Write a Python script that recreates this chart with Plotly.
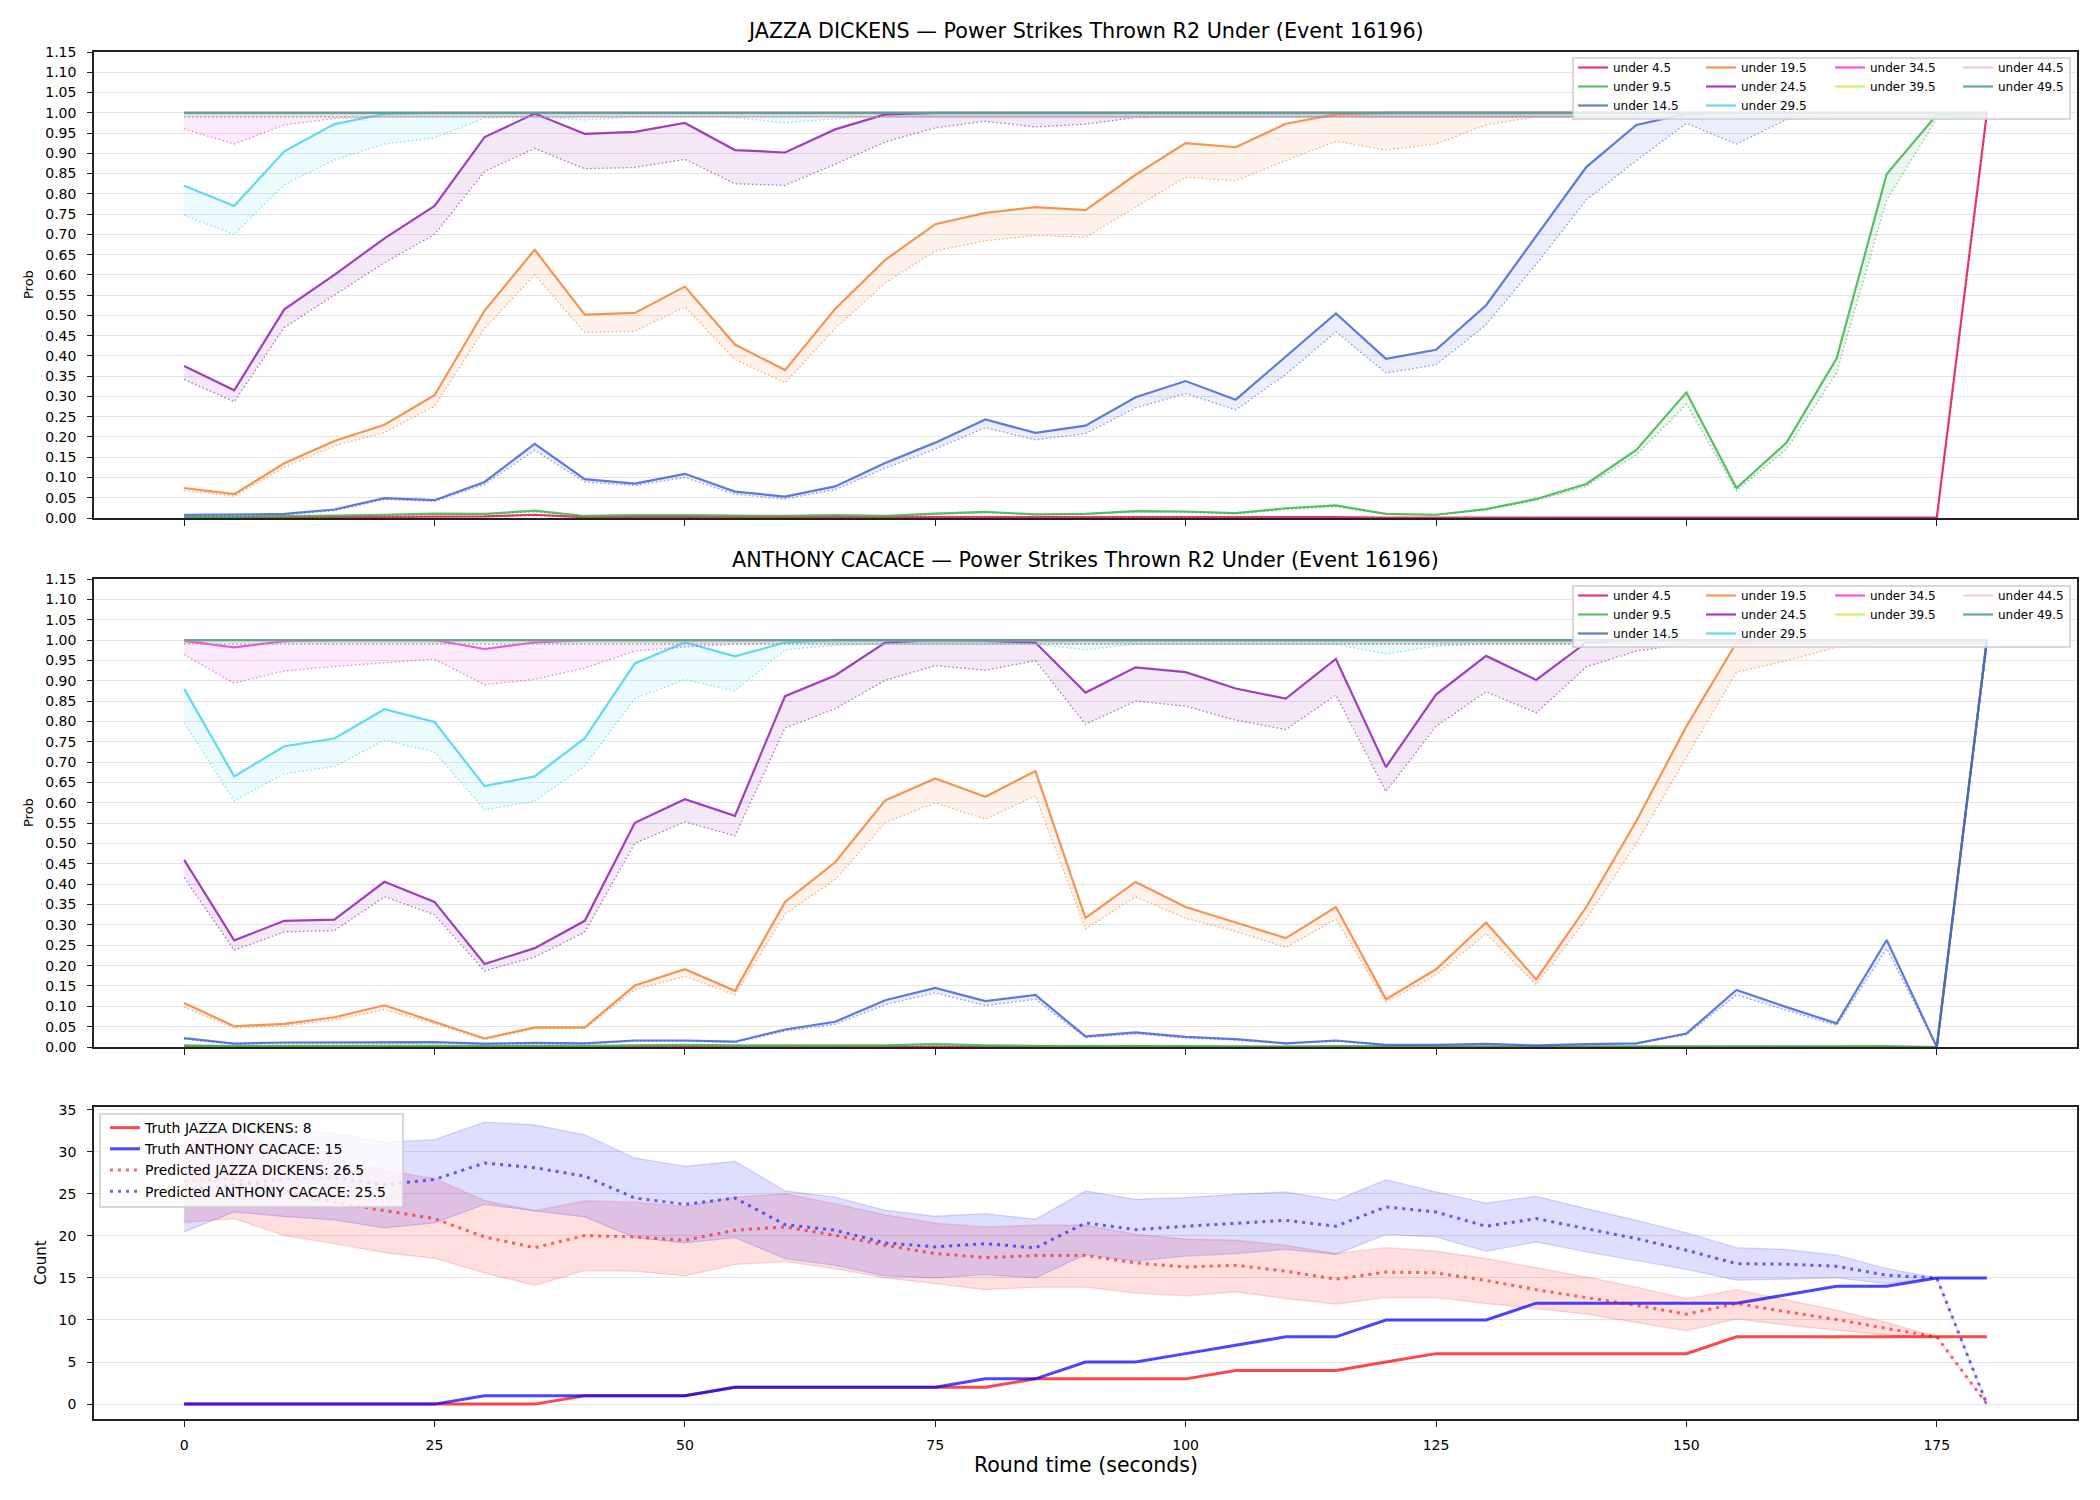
import plotly.graph_objects as go

# ---------------- data ----------------
T = [0, 5, 10, 15, 20, 25, 30, 35, 40, 45, 50, 55, 60, 65, 70, 75, 80, 85, 90,
     95, 100, 105, 110, 115, 120, 125, 130, 135, 140, 145, 150, 155, 160, 165,
     170, 175, 180]

THRESHOLDS = ["4.5", "9.5", "14.5", "19.5", "24.5", "29.5", "34.5", "39.5", "44.5", "49.5"]
COLORS = ["#e6194b", "#3cb44b", "#4363d8", "#f58231", "#911eb4",
          "#42d4f4", "#f032e6", "#bfef45", "#fabed4", "#469990"]

TITLE_J = "JAZZA DICKENS — Power Strikes Thrown R2 Under (Event 16196)"
TITLE_A = "ANTHONY CACACE — Power Strikes Thrown R2 Under (Event 16196)"

# JAZZA DICKENS: model (solid) and reference (dotted) probabilities
j_u4_5 = [0.001, 0.001, 0.001, 0.002, 0.003, 0.004, 0.004, 0.008, 0.002, 0.003, 0.003, 0.002,
          0.002, 0.003, 0.002, 0.002, 0.003, 0.002, 0.002, 0.003, 0.003, 0.002, 0.002, 0.002,
          0.001, 0.001, 0.001, 0.001, 0.001, 0.001, 0.001, 0.001, 0.001, 0.001, 0.001, 0.001, 1.0]
j_u4_5_d = [0.001, 0.001, 0.001, 0.001, 0.002, 0.003, 0.003, 0.006, 0.001, 0.002, 0.002, 0.001,
            0.001, 0.002, 0.001, 0.001, 0.002, 0.001, 0.001, 0.002, 0.002, 0.001, 0.001, 0.001,
            0.0, 0.0, 0.0, 0.0, 0.0, 0.0, 0.0, 0.0, 0.0, 0.0, 0.0, 0.0, 0.99]
j_u9_5 = [0.002, 0.003, 0.004, 0.006, 0.008, 0.011, 0.010, 0.018, 0.005, 0.007, 0.007, 0.006,
          0.005, 0.007, 0.005, 0.011, 0.015, 0.009, 0.010, 0.017, 0.016, 0.012, 0.024, 0.031,
          0.010, 0.008, 0.022, 0.047, 0.084, 0.168, 0.310, 0.074, 0.186, 0.394, 0.849, 0.995, 1.0]
j_u9_5_d = [0.001, 0.002, 0.003, 0.005, 0.007, 0.009, 0.009, 0.015, 0.004, 0.006, 0.006, 0.005,
            0.004, 0.006, 0.004, 0.009, 0.013, 0.008, 0.009, 0.015, 0.014, 0.010, 0.021, 0.028,
            0.009, 0.007, 0.020, 0.043, 0.078, 0.156, 0.281, 0.067, 0.170, 0.358, 0.785, 0.985, 0.99]
j_u14_5 = [0.0075, 0.008, 0.010, 0.021, 0.049, 0.044, 0.089, 0.183, 0.096, 0.085, 0.109, 0.065,
           0.053, 0.078, 0.136, 0.186, 0.243, 0.210, 0.228, 0.298, 0.338, 0.292, 0.398, 0.505,
           0.393, 0.415, 0.525, 0.697, 0.866, 0.970, 0.998, 1.0, 1.0, 1.0, 1.0, 1.0, 1.0]
j_u14_5_d = [0.005, 0.006, 0.008, 0.018, 0.046, 0.041, 0.083, 0.167, 0.089, 0.080, 0.100, 0.059,
             0.047, 0.070, 0.123, 0.170, 0.223, 0.193, 0.208, 0.272, 0.307, 0.267, 0.354, 0.460,
             0.358, 0.378, 0.477, 0.626, 0.785, 0.882, 0.974, 0.923, 0.983, 0.99, 0.99, 0.99, 0.99]
j_u19_5 = [0.074, 0.059, 0.135, 0.190, 0.230, 0.303, 0.512, 0.662, 0.502, 0.506, 0.571, 0.428,
           0.365, 0.516, 0.637, 0.725, 0.753, 0.767, 0.760, 0.847, 0.925, 0.915, 0.973, 0.996,
           1.0, 1.0, 1.0, 1.0, 1.0, 1.0, 1.0, 1.0, 1.0, 1.0, 1.0, 1.0, 1.0]
j_u19_5_d = [0.068, 0.054, 0.125, 0.178, 0.211, 0.276, 0.468, 0.600, 0.458, 0.461, 0.521, 0.391,
             0.334, 0.468, 0.580, 0.659, 0.684, 0.697, 0.693, 0.768, 0.841, 0.832, 0.882, 0.930,
             0.908, 0.923, 0.970, 0.99, 0.99, 0.99, 0.99, 0.99, 0.99, 0.99, 0.99, 0.99, 0.99]
j_u24_5 = [0.375, 0.315, 0.515, 0.600, 0.690, 0.770, 0.940, 0.998, 0.948, 0.953, 0.975, 0.908,
           0.902, 0.959, 0.996, 1.0, 1.0, 1.0, 1.0, 1.0, 1.0, 1.0, 1.0, 1.0,
           1.0, 1.0, 1.0, 1.0, 1.0, 1.0, 1.0, 1.0, 1.0, 1.0, 1.0, 1.0, 1.0]
j_u24_5_d = [0.342, 0.287, 0.470, 0.550, 0.630, 0.700, 0.855, 0.912, 0.862, 0.865, 0.885, 0.825,
             0.821, 0.873, 0.928, 0.963, 0.979, 0.965, 0.972, 0.988, 0.99, 0.99, 0.99, 0.99,
             0.99, 0.99, 0.99, 0.99, 0.99, 0.99, 0.99, 0.99, 0.99, 0.99, 0.99, 0.99, 0.99]
j_u29_5 = [0.820, 0.770, 0.905, 0.972, 0.997, 1.0, 1.0, 1.0, 1.0, 1.0, 1.0, 1.0,
           1.0, 1.0, 1.0, 1.0, 1.0, 1.0, 1.0, 1.0, 1.0, 1.0, 1.0, 1.0,
           1.0, 1.0, 1.0, 1.0, 1.0, 1.0, 1.0, 1.0, 1.0, 1.0, 1.0, 1.0, 1.0]
j_u29_5_d = [0.747, 0.700, 0.822, 0.884, 0.923, 0.938, 0.987, 0.99, 0.982, 0.99, 0.99, 0.988,
             0.975, 0.985, 0.99, 0.99, 0.99, 0.99, 0.99, 0.99, 0.99, 0.99, 0.99, 0.99,
             0.99, 0.99, 0.99, 0.99, 0.99, 0.99, 0.99, 0.99, 0.99, 0.99, 0.99, 0.99, 0.99]
j_u34_5 = [1.0] * 37
j_u34_5_d = [0.960, 0.923, 0.970, 0.986, 0.99, 0.99, 0.99, 0.99, 0.99, 0.99, 0.99, 0.99,
             0.99, 0.99, 0.99, 0.99, 0.99, 0.99, 0.99, 0.99, 0.99, 0.99, 0.99, 0.99,
             0.99, 0.99, 0.99, 0.99, 0.99, 0.99, 0.99, 0.99, 0.99, 0.99, 0.99, 0.99, 0.99]
j_u39_5 = [1.0] * 37
j_u39_5_d = [0.99] * 37
j_u44_5 = [1.0] * 37
j_u44_5_d = [0.99] * 37
j_u49_5 = [1.0] * 37
j_u49_5_d = [0.99] * 37

# ANTHONY CACACE
a_u4_5 = [0.001, 0.001, 0.001, 0.001, 0.001, 0.001, 0.001, 0.001, 0.001, 0.001, 0.001, 0.001,
          0.001, 0.001, 0.001, 0.001, 0.001, 0.001, 0.001, 0.001, 0.001, 0.001, 0.001, 0.001,
          0.0, 0.0, 0.0, 0.0, 0.0, 0.0, 0.0, 0.0, 0.0, 0.0, 0.0, 0.0, 1.0]
a_u4_5_d = [0.0, 0.0, 0.0, 0.0, 0.0, 0.0, 0.0, 0.0, 0.0, 0.0, 0.0, 0.0,
            0.0, 0.0, 0.0, 0.0, 0.0, 0.0, 0.0, 0.0, 0.0, 0.0, 0.0, 0.0,
            0.0, 0.0, 0.0, 0.0, 0.0, 0.0, 0.0, 0.0, 0.0, 0.0, 0.0, 0.0, 0.99]
a_u9_5 = [0.004, 0.002, 0.003, 0.003, 0.003, 0.003, 0.002, 0.003, 0.003, 0.004, 0.005, 0.004,
          0.004, 0.005, 0.004, 0.007, 0.004, 0.003, 0.002, 0.003, 0.002, 0.002, 0.001, 0.002,
          0.001, 0.001, 0.001, 0.001, 0.001, 0.001, 0.001, 0.002, 0.001, 0.001, 0.002, 0.0, 1.0]
a_u9_5_d = [0.003, 0.001, 0.002, 0.002, 0.002, 0.002, 0.001, 0.002, 0.002, 0.003, 0.004, 0.003,
            0.003, 0.004, 0.003, 0.006, 0.003, 0.002, 0.001, 0.002, 0.001, 0.001, 0.001, 0.001,
            0.0, 0.0, 0.0, 0.0, 0.0, 0.0, 0.0, 0.001, 0.0, 0.0, 0.001, 0.0, 0.99]
a_u14_5 = [0.022, 0.0085, 0.011, 0.011, 0.011, 0.012, 0.0085, 0.010, 0.009, 0.016, 0.016, 0.013,
           0.043, 0.062, 0.115, 0.145, 0.113, 0.128, 0.026, 0.036, 0.025, 0.0195, 0.009, 0.016,
           0.005, 0.005, 0.0076, 0.004, 0.007, 0.009, 0.033, 0.140, 0.098, 0.058, 0.263, 0.0, 1.0]
a_u14_5_d = [0.019, 0.007, 0.009, 0.009, 0.009, 0.010, 0.007, 0.008, 0.008, 0.014, 0.014, 0.011,
             0.039, 0.056, 0.104, 0.133, 0.102, 0.117, 0.023, 0.032, 0.022, 0.017, 0.008, 0.014,
             0.004, 0.004, 0.006, 0.003, 0.006, 0.008, 0.030, 0.128, 0.090, 0.053, 0.242, 0.0, 0.99]
a_u19_5 = [0.108, 0.051, 0.057, 0.073, 0.1025, 0.062, 0.021, 0.048, 0.048, 0.151, 0.191, 0.138,
           0.3565, 0.454, 0.606, 0.660, 0.615, 0.678, 0.317, 0.4056, 0.344, 0.306, 0.2676, 0.344,
           0.1177, 0.191, 0.306, 0.166, 0.344, 0.5555, 0.788, 0.994, 1.0, 1.0, 1.0, 1.0, 1.0]
a_u19_5_d = [0.098, 0.047, 0.052, 0.067, 0.092, 0.057, 0.018, 0.045, 0.045, 0.141, 0.174, 0.128,
             0.327, 0.4115, 0.551, 0.600, 0.560, 0.617, 0.290, 0.369, 0.316, 0.2845, 0.2447, 0.314,
             0.111, 0.177, 0.2786, 0.153, 0.314, 0.5005, 0.712, 0.921, 0.949, 0.983, 0.99, 0.99, 0.99]
a_u24_5 = [0.460, 0.262, 0.310, 0.313, 0.406, 0.3565, 0.204, 0.243, 0.310, 0.551, 0.609, 0.568,
           0.862, 0.913, 0.994, 1.0, 0.998, 0.994, 0.871, 0.933, 0.921, 0.881, 0.856, 0.9535,
           0.688, 0.866, 0.961, 0.902, 0.994, 1.0, 1.0, 1.0, 1.0, 1.0, 1.0, 1.0, 1.0]
a_u24_5_d = [0.416, 0.238, 0.283, 0.286, 0.369, 0.325, 0.187, 0.221, 0.282, 0.5005, 0.553, 0.519,
             0.784, 0.831, 0.901, 0.937, 0.926, 0.949, 0.793, 0.850, 0.8375, 0.803, 0.780, 0.865,
             0.6275, 0.788, 0.873, 0.821, 0.934, 0.973, 0.99, 0.99, 0.99, 0.99, 0.99, 0.99, 0.99]
a_u29_5 = [0.880, 0.665, 0.739, 0.758, 0.830, 0.7985, 0.641, 0.665, 0.759, 0.9425, 0.994, 0.960,
           0.994, 1.0, 1.0, 1.0, 1.0, 1.0, 1.0, 1.0, 1.0, 1.0, 1.0, 1.0,
           1.0, 1.0, 1.0, 1.0, 1.0, 1.0, 1.0, 1.0, 1.0, 1.0, 1.0, 1.0, 1.0]
a_u29_5_d = [0.797, 0.605, 0.6715, 0.689, 0.754, 0.725, 0.583, 0.604, 0.691, 0.856, 0.903, 0.875,
             0.976, 0.987, 0.99, 0.99, 0.99, 0.99, 0.976, 0.99, 0.99, 0.99, 0.99, 0.99,
             0.966, 0.985, 0.99, 0.99, 0.99, 0.99, 0.99, 0.99, 0.99, 0.99, 0.99, 0.99, 0.99]
a_u34_5 = [0.998, 0.982, 0.997, 1.0, 1.0, 1.0, 0.978, 0.994, 1.0, 1.0, 1.0, 1.0,
           1.0, 1.0, 1.0, 1.0, 1.0, 1.0, 1.0, 1.0, 1.0, 1.0, 1.0, 1.0,
           1.0, 1.0, 1.0, 1.0, 1.0, 1.0, 1.0, 1.0, 1.0, 1.0, 1.0, 1.0, 1.0]
a_u34_5_d = [0.964, 0.894, 0.924, 0.935, 0.944, 0.953, 0.890, 0.9035, 0.931, 0.973, 0.983, 0.99,
             0.99, 0.99, 0.99, 0.99, 0.99, 0.99, 0.99, 0.99, 0.99, 0.99, 0.99, 0.99,
             0.99, 0.99, 0.99, 0.99, 0.99, 0.99, 0.99, 0.99, 0.99, 0.99, 0.99, 0.99, 0.99]
a_u39_5 = [1.0] * 37
a_u39_5_d = [0.99] * 37
a_u44_5 = [1.0] * 37
a_u44_5_d = [0.99] * 37
a_u49_5 = [1.0] * 37
a_u49_5_d = [0.99] * 37

# Count panel
truth_j = [0, 0, 0, 0, 0, 0, 0, 0, 1, 1, 1, 2, 2, 2, 2, 2, 2, 3, 3, 3, 3, 4, 4, 4,
           5, 6, 6, 6, 6, 6, 6, 8, 8, 8, 8, 8, 8]
truth_a = [0, 0, 0, 0, 0, 0, 1, 1, 1, 1, 1, 2, 2, 2, 2, 2, 3, 3, 5, 5, 6, 7, 8, 8,
           10, 10, 10, 12, 12, 12, 12, 12, 13, 14, 14, 15, 15]
pred_j = [26.5, 26.8, 25.3, 24.0, 23.0, 22.05, 19.87, 18.6, 20.03, 19.87, 19.48, 20.67,
          21.06, 20.07, 18.88, 17.9, 17.42, 17.66, 17.66, 16.79, 16.3, 16.5, 15.8, 14.85,
          15.7, 15.6, 14.7, 13.6, 12.67, 11.76, 10.69, 11.96, 10.97, 10.06, 8.99, 8.0, 0.0]
pred_j_hi = [31.3, 32.2, 30.5, 29.2, 27.8, 26.8, 24.2, 23.0, 24.15, 24.0, 23.5, 24.6,
             25.0, 23.8, 22.5, 21.5, 21.06, 21.26, 21.26, 20.2, 19.6, 19.48, 18.88, 17.9,
             18.6, 18.17, 17.3, 16.23, 15.12, 13.9, 12.55, 13.6, 12.35, 11.16, 9.7, 8.0, 0.0]
pred_j_lo = [21.6, 22.05, 20.03, 19.08, 18.0, 17.34, 15.6, 14.13, 15.87, 15.8, 15.24, 16.6,
             16.94, 16.1, 15.0, 14.33, 13.6, 13.9, 13.9, 13.2, 12.87, 13.34, 12.55, 11.88,
             12.67, 12.67, 11.96, 11.36, 10.69, 9.7, 8.71, 10.13, 9.38, 8.79, 8.2, 8.0, 0.0]
pred_a = [25.5, 26.0, 26.8, 26.9, 26.1, 26.7, 28.66, 28.1, 27.1, 24.5, 23.75, 24.5,
          21.34, 20.67, 19.16, 18.69, 19.08, 18.57, 21.54, 20.74, 21.14, 21.54, 21.85, 21.14,
          23.44, 22.84, 21.14, 22.05, 20.86, 19.68, 18.29, 16.7, 16.63, 16.39, 15.32, 15.0, 0.0]
pred_a_hi = [30.5, 33.5, 32.6, 32.2, 31.15, 31.43, 33.53, 33.2, 32.0, 29.26, 28.27, 28.86,
             25.34, 24.6, 23.04, 22.33, 22.64, 21.97, 25.34, 24.35, 24.55, 24.94, 25.22, 24.23,
             26.68, 25.22, 23.9, 24.7, 23.24, 21.85, 20.35, 18.6, 18.37, 17.7, 16.1, 15.0, 0.0]
pred_a_lo = [20.47, 22.84, 22.3, 21.9, 20.94, 21.54, 23.75, 22.96, 22.25, 19.8, 19.16, 19.8,
             17.3, 16.5, 15.24, 15.0, 15.4, 15.0, 17.78, 17.0, 17.6, 17.9, 18.4, 17.8,
             20.15, 19.87, 18.17, 19.28, 18.1, 17.1, 16.03, 14.73, 14.85, 15.0, 14.33, 15.0, 0.0]

X_TICKS = [0, 25, 50, 75, 100, 125, 150, 175]

J_SOLID = [j_u4_5, j_u9_5, j_u14_5, j_u19_5, j_u24_5, j_u29_5, j_u34_5, j_u39_5, j_u44_5, j_u49_5]
J_DOT = [j_u4_5_d, j_u9_5_d, j_u14_5_d, j_u19_5_d, j_u24_5_d, j_u29_5_d, j_u34_5_d, j_u39_5_d,
         j_u44_5_d, j_u49_5_d]
A_SOLID = [a_u4_5, a_u9_5, a_u14_5, a_u19_5, a_u24_5, a_u29_5, a_u34_5, a_u39_5, a_u44_5, a_u49_5]
A_DOT = [a_u4_5_d, a_u9_5_d, a_u14_5_d, a_u19_5_d, a_u24_5_d, a_u29_5_d, a_u34_5_d, a_u39_5_d,
         a_u44_5_d, a_u49_5_d]

# ---------------- figure ----------------
FONT = "DejaVu Sans"
W, H = 2100, 1500
L, R, TOP, BOT = 94, 2077, 52, 1419
PW, PH = R - L, BOT - TOP


def px_x(px):
    return (px - L) / PW


def px_y(py):
    return (BOT - py) / PH


def rgba(hexc, a):
    h = hexc.lstrip("#")
    return "rgba(%d,%d,%d,%s)" % (int(h[0:2], 16), int(h[2:4], 16), int(h[4:6], 16), a)


fig = go.Figure()

# legend column of each threshold (matplotlib ncol=4 column-major)
COL_OF = [0, 0, 0, 1, 1, 1, 2, 2, 3, 3]

for pi, (solid, dot, xa, ya) in enumerate([(J_SOLID, J_DOT, "x", "y"),
                                           (A_SOLID, A_DOT, "x2", "y2")]):
    # fills first (below lines)
    for k, c in enumerate(COLORS):
        fig.add_trace(go.Scatter(
            x=T + T[::-1], y=solid[k] + dot[k][::-1], xaxis=xa, yaxis=ya,
            fill="toself", fillcolor=rgba(c, 0.1), line=dict(width=0),
            mode="lines", showlegend=False, hoverinfo="skip"))
    for k, c in enumerate(COLORS):
        leg = "legend" if (pi * 4 + COL_OF[k]) == 0 else "legend%d" % (pi * 4 + COL_OF[k] + 1)
        fig.add_trace(go.Scatter(
            x=T, y=solid[k], xaxis=xa, yaxis=ya, mode="lines",
            line=dict(color=rgba(c, 0.85), width=2.2),
            name="under " + THRESHOLDS[k], legend=leg, showlegend=True))
        fig.add_trace(go.Scatter(
            x=T, y=dot[k], xaxis=xa, yaxis=ya, mode="lines",
            line=dict(color=rgba(c, 0.65), width=1.3, dash="1.5px,2.5px"),
            showlegend=False, hoverinfo="skip"))

# count panel bands
for lo, hi, c in [(pred_j_lo, pred_j_hi, (255, 0, 0)), (pred_a_lo, pred_a_hi, (0, 0, 255))]:
    fig.add_trace(go.Scatter(
        x=T + T[::-1], y=hi + lo[::-1], xaxis="x3", yaxis="y3", fill="toself",
        fillcolor="rgba(%d,%d,%d,0.13)" % c,
        line=dict(color="rgba(%d,%d,%d,0.15)" % c, width=1.3),
        mode="lines", showlegend=False, hoverinfo="skip"))

fig.add_trace(go.Scatter(x=T, y=truth_j, xaxis="x3", yaxis="y3", mode="lines",
                         line=dict(color="rgba(255,0,0,0.72)", width=3),
                         name="Truth JAZZA DICKENS: %g" % truth_j[-1], legend="legend9"))
fig.add_trace(go.Scatter(x=T, y=truth_a, xaxis="x3", yaxis="y3", mode="lines",
                         line=dict(color="rgba(0,0,255,0.72)", width=3),
                         name="Truth ANTHONY CACACE: %g" % truth_a[-1], legend="legend9"))
fig.add_trace(go.Scatter(x=T, y=pred_j, xaxis="x3", yaxis="y3", mode="lines",
                         line=dict(color="rgba(255,0,0,0.6)", width=3, dash="3px,5px"),
                         name="Predicted JAZZA DICKENS: %g" % pred_j[0], legend="legend9"))
fig.add_trace(go.Scatter(x=T, y=pred_a, xaxis="x3", yaxis="y3", mode="lines",
                         line=dict(color="rgba(0,0,255,0.6)", width=3, dash="3px,5px"),
                         name="Predicted ANTHONY CACACE: %g" % pred_a[0], legend="legend9"))

# ---------------- axes ----------------
tickfont = dict(family=FONT, size=14, color="#000")
xcommon = dict(range=[-9, 189], tickvals=X_TICKS, ticks="outside", ticklen=6, tickwidth=1.2,
               tickcolor="#222", showline=True, mirror=True, linecolor="#222", linewidth=1.6,
               showgrid=False, zeroline=False, tickfont=tickfont)
ycommon = dict(ticks="outside", ticklen=5, tickwidth=1.2, tickcolor="#222", showline=True,
               mirror=True, linecolor="#222", linewidth=1.6, showgrid=True, gridcolor="#e4e4e4",
               gridwidth=1, zeroline=False, tickfont=tickfont, ticklabelstandoff=8)

d_top = [px_y(518), 1.0]
d_mid = [px_y(1047), px_y(579)]
d_bot = [0.0, px_y(1107)]

layout = dict(
    width=W, height=H,
    margin=dict(l=L, r=W - R, t=TOP, b=H - BOT, pad=0),
    paper_bgcolor="white", plot_bgcolor="white",
    font=dict(family=FONT, size=14, color="#000"),
    xaxis=dict(xcommon, anchor="y", domain=[0, 1], showticklabels=False),
    xaxis2=dict(xcommon, anchor="y2", domain=[0, 1], showticklabels=False),
    xaxis3=dict(xcommon, anchor="y3", domain=[0, 1], ticklabelstandoff=6),
    yaxis=dict(ycommon, anchor="x", domain=d_top, range=[0, 1.15], tick0=0, dtick=0.05,
               tickformat=".2f"),
    yaxis2=dict(ycommon, anchor="x2", domain=d_mid, range=[0, 1.15], tick0=0, dtick=0.05,
                tickformat=".2f"),
    yaxis3=dict(ycommon, anchor="x3", domain=d_bot, range=[-1.77, 35.32], tick0=0, dtick=5),
    showlegend=True,
)

# legends: 4 columns in each probability panel, one in count panel
leg_text_x = [1613, 1741, 1870, 1998]
for pi, top_px in enumerate([53, 581]):
    for ci in range(4):
        idx = pi * 4 + ci
        key = "legend" if idx == 0 else "legend%d" % (idx + 1)
        layout[key] = dict(x=px_x(leg_text_x[ci] - 40), y=px_y(top_px), xanchor="left",
                           yanchor="top", bgcolor="rgba(0,0,0,0)", borderwidth=0,
                           font=dict(family=FONT, size=12, color="#000"), itemwidth=30,
                           tracegroupgap=0, orientation="v", traceorder="normal")
layout["legend9"] = dict(x=px_x(105), y=px_y(1112), xanchor="left", yanchor="top",
                         bgcolor="rgba(0,0,0,0)", borderwidth=0,
                         font=dict(family=FONT, size=14, color="#000"), itemwidth=30,
                         tracegroupgap=0, orientation="v", traceorder="normal")

fig.update_layout(**layout)

# legend frames
frames = [(1573, 58, 2070, 119), (1573, 586, 2070, 647), (100, 1114, 403, 1207)]
for x0, y0, x1, y1 in frames:
    fig.add_shape(type="rect", xref="paper", yref="paper", x0=px_x(x0), x1=px_x(x1),
                  y0=px_y(y1), y1=px_y(y0), line=dict(color="#cccccc", width=1.5),
                  fillcolor="rgba(255,255,255,0.8)", layer="above")

# titles and axis labels
ann = [
    dict(text=TITLE_J, x=0.5, y=px_y(31), size=20.7, angle=0),
    dict(text=TITLE_A, x=0.5, y=px_y(560), size=20.7, angle=0),
    dict(text="Prob", x=px_x(28), y=px_y((52 + 518) / 2), size=13, angle=-90),
    dict(text="Prob", x=px_x(28), y=px_y((579 + 1047) / 2), size=13, angle=-90),
    dict(text="Count", x=px_x(41), y=px_y((1107 + 1419) / 2), size=15, angle=-90),
    dict(text="Round time (seconds)", x=0.5, y=px_y(1465), size=20.5, angle=0),
]
for a in ann:
    fig.add_annotation(text=a["text"], x=a["x"], y=a["y"], xref="paper", yref="paper",
                       xanchor="center", yanchor="middle", showarrow=False,
                       textangle=a["angle"], font=dict(family=FONT, size=a["size"], color="#000"))

fig.write_html("out.html")
